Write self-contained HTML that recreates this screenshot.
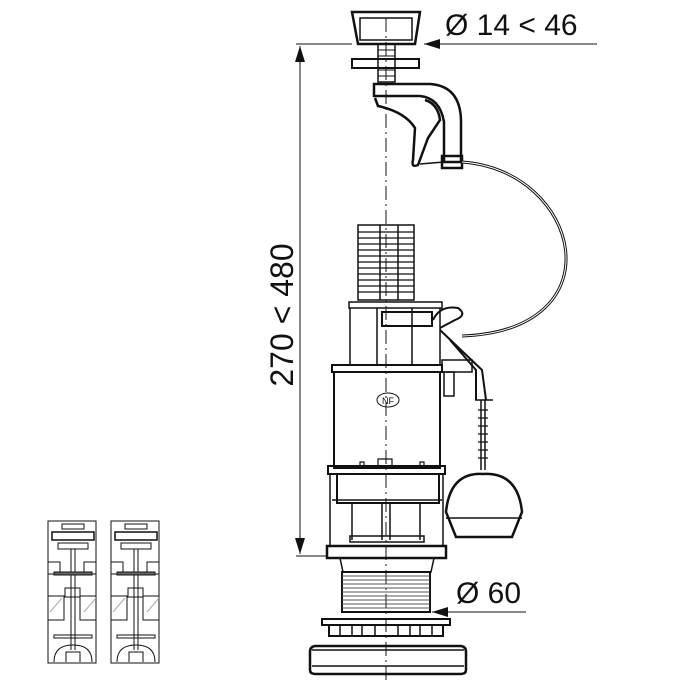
<!DOCTYPE html>
<html><head><style>body{margin:0;background:#fff}svg{display:block}</style></head><body>
<svg width="680" height="680" viewBox="0 0 680 680" xmlns="http://www.w3.org/2000/svg" fill="none" stroke="#111" stroke-width="1.5" font-family="Liberation Sans, sans-serif">
<line x1="386" y1="18" x2="386" y2="680" stroke-width="1" stroke-dasharray="14,4,2,4"/>
<line x1="296" y1="44" x2="352" y2="44" stroke-width="1"/>
<line x1="424" y1="44" x2="597" y2="44" stroke-width="1"/>
<polygon points="424,44 440,39 440,49" fill="#111" stroke="none"/>
<text x="445" y="35" font-size="30" fill="#111" stroke="none">Ø 14 &lt; 46</text>
<line x1="300" y1="46" x2="300" y2="554" stroke-width="1"/>
<polygon points="300,46 295,62 305,62" fill="#111" stroke="none"/>
<polygon points="300,554 295,538 305,538" fill="#111" stroke="none"/>
<line x1="296" y1="556" x2="328" y2="556" stroke-width="1"/>
<text transform="translate(293,315) rotate(-90)" text-anchor="middle" font-size="32" fill="#111" stroke="none">270 &lt; 480</text>
<line x1="432" y1="612" x2="526" y2="612" stroke-width="1"/>
<polygon points="432,612 448,607 448,617" fill="#111" stroke="none"/>
<text x="456" y="603" font-size="30" fill="#111" stroke="none">Ø 60</text>
<path d="M352,12 L420,12 L415,44 L358,44 Z" stroke-width="2.5"/>
<rect x="360" y="18" width="52" height="22"/>
<rect x="378" y="44" width="17" height="38"/>
<path d="M378,50h17M378,56h17M378,70h17M378,76h17" stroke-width="1"/>
<rect x="352" y="59" width="67" height="9" stroke-width="2"/>
<path d="M374,84 L430,84 Q460,86 461,120 L461,162 L444,162 L444,122 Q440,98 420,96 L374,96 Z" stroke-width="2.5"/>
<rect x="442" y="156" width="20" height="12" stroke-width="2.5"/>
<path d="M375,98 L378,106 Q405,112 415,128 L413,160 Q411,168 418,165 L428,138 L440,120 Q438,104 425,100" stroke-width="2.5"/>
<line x1="420" y1="164" x2="444" y2="162"/>
<path d="M462,162 C580,170 620,330 462,336" stroke-width="3"/>
<path d="M462,162 C580,170 620,330 462,336" stroke="#fff" stroke-width="1"/>
<rect x="358" y="225" width="56" height="75"/>
<g stroke-width="1.2"><path d="M358,232h56M358,238h56M358,244h56M358,250h56M358,256h56M358,262h56M358,268h56M358,274h56M358,280h56M358,286h56M358,292h56"/></g>
<line x1="380" y1="225" x2="380" y2="300"/><line x1="398" y1="225" x2="398" y2="300"/>
<rect x="349" y="302" width="93" height="6"/>
<path d="M350,308 V364 M377,308 V364 M412,308 V364 M440,308 V364"/>
<path d="M382,312 h50 v14 h-50 z" stroke-width="2"/>
<path d="M433,320 Q440,305 458,308 Q468,315 455,320 L440,328" stroke-width="2"/>
<path d="M440,330 L482,370 L486,400 M450,340 L476,370 L476,400" stroke-width="2"/>
<rect x="442" y="360" width="30" height="12"/>
<rect x="444" y="372" width="10" height="24"/>
<path d="M475,400h18M481,400v70M485,400v70"/>
<path d="M478,410h10M478,418h10M478,426h10M478,434h10M478,442h10M478,450h10M478,458h10" stroke-width="1.2"/>
<path d="M446,512 Q450,472 483,474 Q518,472 522,512 L512,537 L456,537 Z" stroke-width="2.5"/>
<line x1="446" y1="518" x2="522" y2="518"/>
<rect x="332" y="365" width="110" height="7" stroke-width="2"/>
<rect x="334" y="372" width="106" height="96" stroke-width="2"/>
<ellipse cx="388" cy="400" rx="11" ry="7" stroke-width="1"/>
<text x="388" y="404" text-anchor="middle" font-size="9" fill="#111" stroke="none">NF</text>
<path d="M360,468v-6h4v6M378,468v-9h14v9M420,468v-6h4v6" stroke-width="1.2"/>
<rect x="328" y="466" width="117" height="8" stroke-width="2"/>
<path d="M337,474 V503 H439 V474" stroke-width="2"/>
<path d="M330,474 V545 M443,474 V545 M332,500h110" />
<path d="M352,503V540M420,503V540M382,503V540M390,503V540"/>
<rect x="350" y="536" width="74" height="6"/>
<rect x="327" y="546" width="119" height="12" stroke-width="2.5"/>
<path d="M340,558 L343,572 L431,572 L434,558"/>
<rect x="342" y="572" width="88" height="40" stroke-width="2"/>
<g stroke-width="1" stroke="#555"><path d="M342,576h88M342,580h88M342,584h88M342,588h88M342,592h88M342,596h88M342,600h88M342,604h88M342,608h88"/></g>
<rect x="322" y="619" width="128" height="6" stroke-width="2"/>
<rect x="329" y="625" width="114" height="11" stroke-width="2"/>
<path d="M340,625v11M352,625v11M362,625v11M375,625v11M398,625v11M410,625v11M420,625v11M432,625v11"/>
<path d="M316,646 H460 Q466,646 466,652 V670 Q466,674 460,674 H316 Q310,674 310,670 V652 Q310,646 316,646 Z" stroke-width="2.5"/>
<line x1="312" y1="650" x2="464" y2="650"/><line x1="312" y1="666" x2="464" y2="666"/>
<g id="sd" stroke-width="1">
<rect x="48" y="521" width="48" height="142"/>
<rect x="62" y="524" width="22" height="5"/>
<rect x="52" y="532" width="42" height="8" stroke-width="1.5"/>
<rect x="58" y="543" width="30" height="6"/>
<path d="M71,549V650M75,549V650"/>
<path d="M48,562h12v12h-12M96,562h-12v12h12"/>
<rect x="54" y="572" width="38" height="3" fill="#666"/>
<rect x="65" y="588" width="15" height="9"/>
<path d="M48,596h16v24h-16M96,596h-16v24h16" />
<path d="M50,612l12,-14M84,612l12,-14" stroke="#aaa"/>
<rect x="54" y="635" width="38" height="3"/>
<path d="M54,662 Q54,645 73,645 Q92,645 92,662 M66,662v-10h14v10"/>
</g>
<use href="#sd" x="63"/>
</svg>
</body></html>
